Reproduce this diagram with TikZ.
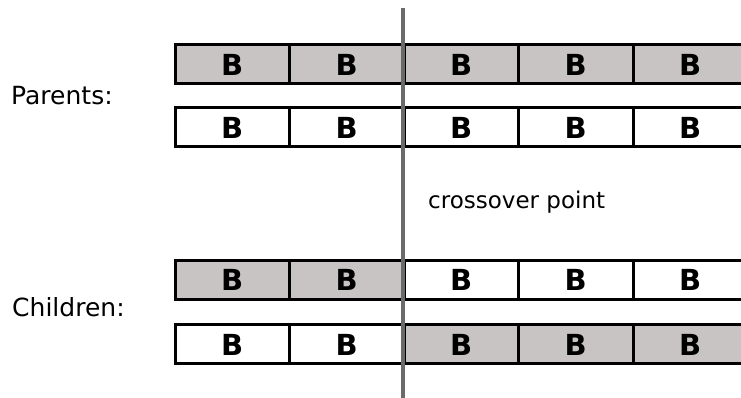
\documentclass[tikz,border=0pt]{standalone}
\usepackage{fontspec}
\setmainfont{DejaVu Sans}
\definecolor{cellgray}{HTML}{C8C4C3}
\definecolor{cutgray}{HTML}{6A6A6A}
\begin{document}
\begin{tikzpicture}[x=1pt,y=1pt,
  cell/.style={draw=black, line width=3pt, minimum width=114.5pt, minimum height=39pt,
    inner sep=0pt, outer sep=0pt, anchor=center, font=\fontsize{29}{32}\selectfont\bfseries},
  g/.style={cell, fill=cellgray},
  w/.style={cell, fill=white},
  lbl/.style={anchor=west, inner sep=0pt, font=\fontsize{25}{28}\selectfont},
  slbl/.style={anchor=west, inner sep=0pt, font=\fontsize{23}{26}\selectfont}]
\useasboundingbox (0,0) rectangle (741,398);
\clip (0,0) rectangle (741,398);
% row centres (image y): 64.5, 127.5, 280, 344.5
\foreach \i/\st in {0/g,1/g,2/g,3/g,4/g} {
  \node[\st] (pa\i) at ({175+57.25+114.5*\i},{398-64.5}) {B};
}
\foreach \i/\st in {0/w,1/w,2/w,3/w,4/w} {
  \node[\st] (pb\i) at ({175+57.25+114.5*\i},{398-127.5}) {B};
}
\foreach \i/\st in {0/g,1/g,2/w,3/w,4/w} {
  \node[\st] (ca\i) at ({175+57.25+114.5*\i},{398-280}) {B};
}
\foreach \i/\st in {0/w,1/w,2/g,3/g,4/g} {
  \node[\st] (cb\i) at ({175+57.25+114.5*\i},{398-344.5}) {B};
}
\node[lbl] (parents) at (11,{398-96}) {Parents:};
\node[lbl] (children) at (12,{398-307}) {Children:};
\node[slbl] (cross) at (428,{398-202}) {crossover point};
\coordinate (cuttop) at (403,{398-8});
\coordinate (cutbot) at (403,-5);
\draw[cutgray, line width=4.5pt] (cuttop) -- (cutbot);
\end{tikzpicture}
\end{document}
